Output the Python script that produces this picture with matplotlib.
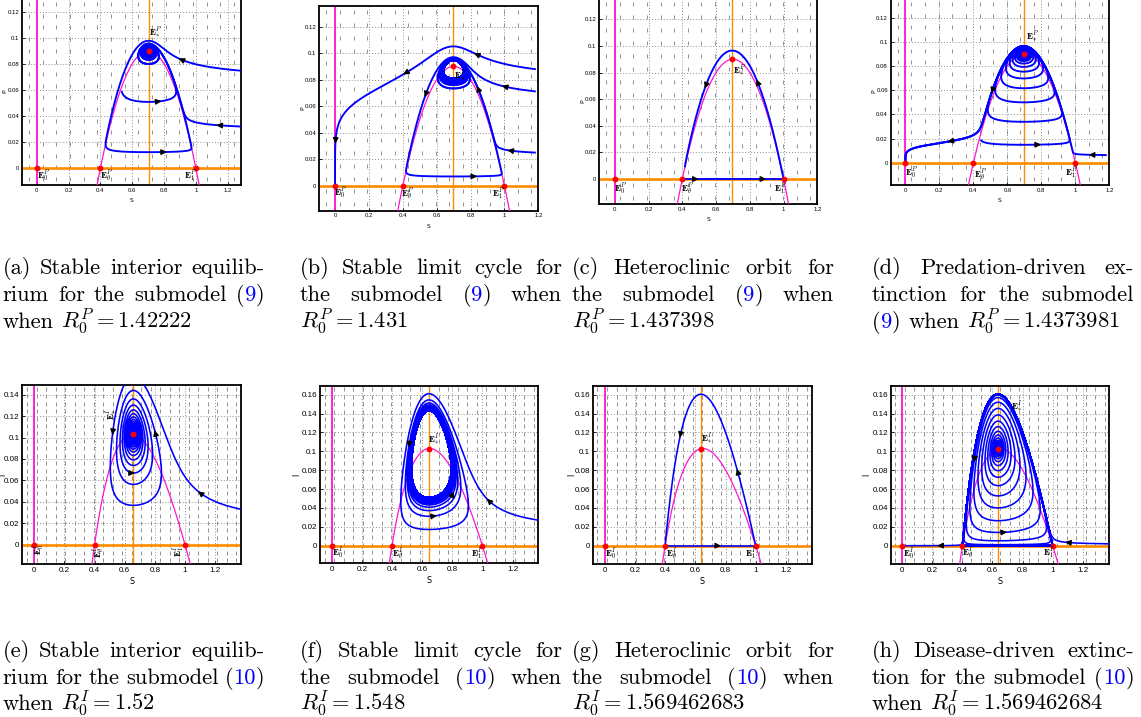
import re
import numpy as np
import matplotlib
matplotlib.use("Agg")
import matplotlib.pyplot as plt
from matplotlib.patches import FancyArrowPatch

plt.rcParams['mathtext.fontset'] = 'cm'
plt.rcParams['axes.unicode_minus'] = False

# ======================= values =======================
THETA = 0.4            # left S-root of both humps (Allee threshold)
K_CAP = 1.0            # right S-root of both humps
I_HUMP_S = 0.65        # S where the I-nullcline of submodel (10) peaks
I_HUMP_TOP = 0.103     # height of that peak

R0_P = [1.42222, 1.431, 1.437398, 1.4373981]
R0_I = [1.52, 1.548, 1.569462683, 1.569462684]

TICKS_S = [0, 0.2, 0.4, 0.6, 0.8, 1.0, 1.2]
TICKLAB_S = ['0', '0.2', '0.4', '0.6', '0.8', '1', '1.2']
TICKS_P = [0, 0.02, 0.04, 0.06, 0.08, 0.10, 0.12]
TICKLAB_P = ['0', '0.02', '0.04', '0.06', '0.08', '0.1', '0.12']
TICKS_I14 = [0, 0.02, 0.04, 0.06, 0.08, 0.10, 0.12, 0.14]
TICKLAB_I14 = ['0', '0.02', '0.04', '0.06', '0.08', '0.1', '0.12', '0.14']
TICKS_I16 = [0, 0.02, 0.04, 0.06, 0.08, 0.10, 0.12, 0.14, 0.16]
TICKLAB_I16 = ['0', '0.02', '0.04', '0.06', '0.08', '0.1', '0.12', '0.14', '0.16']

# starting states (S, P or I) and time spans of the drawn orbits; None = next to E*
ORBITS_A = [(1.28, 0.075, 4000), (1.28, 0.032, 4000), (0.535, 0.0585, 3000)]
ORBITS_B = [(1.18, 0.088, 400), (1.18, 0.069, 3000), (1.18, 0.025, 3000)]
ORBITS_D = [(1.18, 0.0063, 5000), (None, None, 6000), (0.445, 0.0185, 4000)]
ORBITS_E = [(1.37, 0.033, 2500)]
ORBITS_F = [(1.37, 0.027, 2500)]
ORBITS_H = [(1.37, 0.002, 5000), (None, None, 6000)]

# heights of the left turning points of the big loops (panels a, b)
PEEL_A1 = 0.0185            # first loop of (a) turns right here
PEEL_B = 0.011              # big loop of (b) turns right here

# arrow positions
ARROWS_A = [(0.90, 0.084), (0.775, 0.050), (1.152, 0.033), (0.806, 0.0153)]
ARROWS_B = [(0.831, 0.100), (0.415, 0.084), (0.0, 0.033), (0.531, 0.068),
            (0.841, 0.074), (0.996, 0.0735), (1.025, 0.027), (0.831, 0.0091)]
ARROWS_C = [(0.54, 0.069), (0.848, 0.074), (0.487, 0.0), (0.887, 0.0)]
ARROWS_D = [(0.508, 0.0588), (0.257, 0.0174), (0.788, 0.0154), (1.097, 0.0063)]
ARROWS_E = [(0.535, 0.104), (0.79, 0.104), (0.657, 0.066), (1.088, 0.046)]
ARROWS_F = [(0.509, 0.105), (0.686, 0.029), (0.812, 0.055), (1.018, 0.048)]
ARROWS_G = [(0.51, 0.115), (0.874, 0.0795), (0.759, 0.0)]
ARROWS_H = [(0.477, 0.091), (0.69, 0.0145), (0.246, 0.0), (1.089, 0.0025)]

# equilibrium label positions (E0, Etheta, E1, E*)
LABELS_A = [(0.045, -0.006), (0.44, -0.006), (0.965, -0.006), (0.745, 0.104)]
LABELS_B = [(0.035, -0.0055), (0.43, -0.0065), (0.965, -0.0065), (0.74, 0.083)]
LABELS_C = [(0.035, -0.0075), (0.43, -0.0075), (0.98, -0.0075), (0.74, 0.081)]
LABELS_D = [(0.035, -0.009), (0.44, -0.0105), (0.975, -0.009), (0.75, 0.104)]
LABELS_E = [(0.035, -0.004), (0.43, -0.0072), (0.96, -0.0065), (0.515, 0.122)]
LABELS_F = [(0.04, -0.0075), (0.44, -0.0085), (0.965, -0.009), (0.675, 0.112)]
LABELS_G = [(0.04, -0.009), (0.445, -0.0095), (0.965, -0.009), (0.675, 0.113)]
LABELS_H = [(0.04, -0.009), (0.435, -0.0075), (0.975, -0.008), (0.76, 0.147)]

CAPTIONS = [
    ["(a) Stable interior equilib-", "rium for the submodel (9)", "when $R_0^P = 1.42222$"],
    ["(b) Stable limit cycle for", "the submodel (9) when", "$R_0^P = 1.431$"],
    ["(c) Heteroclinic orbit for", "the submodel (9) when", "$R_0^P = 1.437398$"],
    ["(d) Predation-driven ex-", "tinction for the submodel", "(9) when $R_0^P = 1.4373981$"],
    ["(e) Stable interior equilib-", "rium for the submodel (10)", "when $R_0^I = 1.52$"],
    ["(f) Stable limit cycle for", "the submodel (10) when", "$R_0^I = 1.548$"],
    ["(g) Heteroclinic orbit for", "the submodel (10) when", "$R_0^I = 1.569462683$"],
    ["(h) Disease-driven extinc-", "tion for the submodel (10)", "when $R_0^I = 1.569462684$"],
]

# ======================= model of the two submodels =======================
C_I = 1.0 / (1.0 / (I_HUMP_S - THETA) - 1.0 / (K_CAP - I_HUMP_S)) - I_HUMP_S
B_I = (I_HUMP_S - THETA) * (K_CAP - I_HUMP_S) / ((I_HUMP_S + C_I) * I_HUMP_TOP)


def rhs_p(S, P, eps, m):
    return S * ((S - THETA) * (K_CAP - S) - P), eps * P * (S - m)


def rhs_i(S, I, eps, m):
    return S * (S - THETA) * (K_CAP - S) - B_I * S * (S + C_I) * I, eps * I * (S - m)


def null_p(S):
    return (S - THETA) * (K_CAP - S)


def null_i(S):
    return (S - THETA) * (K_CAP - S) / (B_I * (S + C_I))


DT = 0.2


def rk4(rhs, S, P, eps, m, dt):
    a1, b1 = rhs(S, P, eps, m)
    a2, b2 = rhs(S + 0.5 * dt * a1, P + 0.5 * dt * b1, eps, m)
    a3, b3 = rhs(S + 0.5 * dt * a2, P + 0.5 * dt * b2, eps, m)
    a4, b4 = rhs(S + dt * a3, P + dt * b3, eps, m)
    return (S + dt / 6 * (a1 + 2 * a2 + 2 * a3 + a4),
            P + dt / 6 * (b1 + 2 * b2 + 2 * b3 + b4))


def peel_measure(rhs, S0, P0, eps, m, nmax=40000):
    """P where an orbit first turns right on the left side (-1 if it dies out)."""
    S, P, eps = [np.array(a, float) for a in np.broadcast_arrays(
        np.asarray(S0, float), np.asarray(P0, float), np.asarray(eps, float))]
    meas = np.full(S.shape, np.nan)
    for k in range(nmax):
        S, P = rk4(rhs, S, P, eps, m, DT)
        dS, _ = rhs(S, P, eps, m)
        und = np.isnan(meas)
        meas[und & (S < 0.3)] = -1.0
        pr = und & (S < m) & (dS > 0)
        meas[pr] = P[pr]
        if k % 40 == 0 and not np.isnan(meas).any():
            break
    meas[np.isnan(meas)] = 1.0
    return meas


def tune(fn, lo, hi, target, log=True, n=48, rounds=6):
    """bracket (value with measure >= target, value with measure < target)."""
    grid = np.geomspace(lo, hi, n) if log else np.linspace(lo, hi, n)
    res = None
    for rnd in range(rounds):
        meas = fn(grid)
        sg = meas >= target
        idx = np.where(sg[:-1] != sg[1:])[0]
        if len(idx) == 0:
            break
        i = idx[0]
        res = (grid[i], grid[i + 1]) if sg[i] else (grid[i + 1], grid[i])
        grid = np.linspace(grid[i], grid[i + 1], n)
    return res


def orbit(rhs, s0, p0, eps, m, T, stop=None):
    n = int(T / DT)
    S = [s0]
    P = [p0]
    s, p = s0, p0
    for k in range(n):
        s, p = rk4(rhs, s, p, eps, m, DT)
        S.append(s)
        P.append(p)
        if stop is not None and stop(s, p):
            break
    return np.array(S), np.array(P)


M_P = [1.0 / r for r in R0_P]
M_I = [1.0 / r for r in R0_I]
# heteroclinic: orbit leaving E1 along P=0 lands on E_theta
EP_HI, EP_LO = tune(lambda g: peel_measure(rhs_p, K_CAP, 5e-4, g, M_P[2]), 0.02, 1.5, 0.0)
EI_HI, EI_LO = tune(lambda g: peel_measure(rhs_i, K_CAP, 5e-4, g, M_I[2]), 0.02, 5.0, 0.0)

# panels (a), (b): start height of the orbit that makes the big loop
_r = tune(lambda g: peel_measure(rhs_p, ORBITS_A[0][0], g, EP_HI, M_P[0]), 0.035, 0.095,
          PEEL_A1, log=False)
if _r:
    ORBITS_A[0] = (ORBITS_A[0][0], _r[0], ORBITS_A[0][2])
_r = tune(lambda g: peel_measure(rhs_p, ORBITS_B[1][0], g, EP_HI, M_P[1]), 0.045, 0.087,
          PEEL_B, log=False)
if _r:
    ORBITS_B[1] = (ORBITS_B[1][0], _r[0], ORBITS_B[1][2])

# ======================= layout (pixels of the 1141x717 figure) =======================
W_PX, H_PX = 1141, 717
# box: left, right, top, bottom ; cal: x-pixel of S=0, px per S, y-pixel of 0, px per unit
PANELS = [
    dict(box=(22, 241, -2, 185), cal=(36.7, 159.2, 168.3, 1305.7)),
    dict(box=(319.3, 538.3, 5.7, 210.7), cal=(335.3, 172.0, 185.7, 1325.0)),
    dict(box=(599.3, 817.3, -2, 204), cal=(615.0, 171.0, 179.0, 1330.7)),
    dict(box=(890.7, 1109.3, -2, 185), cal=(905.7, 172.7, 162.7, 1208.3)),
    dict(box=(22.3, 241, 385, 564), cal=(34.3, 150.7, 544.7, 1071.3)),
    dict(box=(320, 538.3, 385.7, 563.3), cal=(331.7, 150.7, 545.7, 943.7)),
    dict(box=(592.7, 811.7, 385.7, 564), cal=(604.7, 151.0, 545.7, 943.7)),
    dict(box=(890.7, 1109.3, 385.7, 564), cal=(902.3, 150.3, 545.7, 943.7)),
]
YLAB_OFF = [15, 14, 14, 14, 15.5, 19, 16, 19]
CAP_X = [2.5, 300, 572, 872]
CAP_W = 262
CAP_Y_TOP = [274, 301, 328]
CAP_Y_BOT = [657, 684, 710]
CAP_FS = 16.2

BLUE = '#0000ff'
MAGENTA = '#ff14d2'
ORANGE = '#ff8c00'

fig = plt.figure(figsize=(W_PX / 100, H_PX / 100), dpi=100)


def make_axes(spec):
    L, R, T, B = spec['box']
    x0, sx, y0, sy = spec['cal']
    ax = fig.add_axes([L / W_PX, 1 - B / H_PX, (R - L) / W_PX, (B - T) / H_PX])
    ax.set_xlim((L - x0) / sx, (R - x0) / sx)
    ax.set_ylim((y0 - B) / sy, (y0 - T) / sy)
    return ax


def decorate(ax, i, top_row, yticks, ylabs, ylabel):
    fs = 4.3 if top_row else 5.8
    ax.set_xticks(TICKS_S)
    ax.set_xticklabels(TICKLAB_S, fontsize=fs, family='Liberation Sans')
    ax.set_yticks(yticks)
    ax.set_yticklabels(ylabs, fontsize=fs, family='Liberation Sans')
    ax.tick_params(direction='in', length=2, width=0.6, pad=2)
    ax.grid(True, linestyle=(0, (1, 2)), color='#8c8c8c', linewidth=0.7)
    ax.set_axisbelow(True)
    for sp in ax.spines.values():
        sp.set_linewidth(1.3)
    L, R, T, B = PANELS[i]['box']
    ax.set_xlabel('S', fontsize=fs)
    ax.set_ylabel(ylabel, fontsize=fs)
    ax.xaxis.set_label_coords(0.5, -13.0 / (B - T))
    ax.yaxis.set_label_coords(-YLAB_OFF[i] / (R - L), 0.5)
    # direction-field marks
    x0, x1 = ax.get_xlim()
    y0, y1 = ax.get_ylim()
    nx, ny = (16, 16) if top_row else (23, 24)
    gx = x0 + (np.arange(nx) + 0.5) * (x1 - x0) / nx
    gy = y0 + (np.arange(ny) + 0.5) * (y1 - y0) / ny
    GX, GY = np.meshgrid(gx, gy)
    ax.plot(GX.ravel(), GY.ravel(), '|', ms=2.6, mew=0.65, color='#8a8a8a', zorder=1)


def add_arrows(ax, paths, pts, rhs, eps, m):
    T = ax.transData
    for (xs, ys) in pts:
        tgt = T.transform((xs, ys))
        best = (1e9, xs, ys)
        for (S, P) in paths:
            d = T.transform(np.column_stack([S, P]))
            k = np.argmin(((d - tgt) ** 2).sum(1))
            dist = np.sqrt(((d[k] - tgt) ** 2).sum())
            if dist < best[0]:
                best = (dist, S[k], P[k])
        dist, xa, ya = best
        if dist > 12:
            xa, ya = xs, ys
        u, v = rhs(xa, ya, eps, m)
        h = 1e-5 / max(np.hypot(u, v), 1e-12)
        p0 = T.transform((xa, ya))
        p1 = T.transform((xa + h * u, ya + h * v))
        dv = p1 - p0
        dv = dv / np.hypot(*dv)
        a = T.inverted().transform(p0 - 4.5 * dv)
        b = T.inverted().transform(p0 + 4.5 * dv)
        ax.add_patch(FancyArrowPatch(tuple(a), tuple(b), arrowstyle='-|>', mutation_scale=8,
                                     color='k', lw=1.0, zorder=6))


def draw_panel(i, ax, model, m, eps, orbits, arrows, labels, het=False, rot=0):
    top = model == 'P'
    rhs = rhs_p if top else rhs_i
    nullf = null_p if top else null_i
    sup = 'P' if top else 'I'
    if top:
        decorate(ax, i, True, TICKS_P, TICKLAB_P, 'P')
    elif i == 4:
        decorate(ax, i, False, TICKS_I14, TICKLAB_I14, 'I')
    else:
        decorate(ax, i, False, TICKS_I16, TICKLAB_I16, 'I')
    ystar = nullf(m)
    lw = 1.35 if top else 1.15
    ax.axhline(0, color=ORANGE, lw=1.9, zorder=2)
    ax.axvline(m, color=ORANGE, lw=1.0, zorder=2)
    ax.axvline(0, color=MAGENTA, lw=1.3, zorder=2)
    ss = np.linspace(0.3, 1.1, 400)
    ax.plot(ss, nullf(ss), color=MAGENTA, lw=0.9, zorder=3)
    paths = []
    if het:
        S, P = orbit(rhs, K_CAP, 5e-4, eps, m, 20000,
                     stop=lambda s, p: (s < m and rhs(s, p, eps, m)[0] > 0) or s < THETA - 0.01)
        paths.append((S, P))
        paths.append((np.array([THETA, K_CAP]), np.array([0.0, 0.0])))
    for (s0, p0, T) in orbits:
        if s0 is None:
            s0, p0 = m + 0.001, ystar
        S, P = orbit(rhs, s0, p0, eps, m, T,
                     stop=lambda s, p: s < 1e-3 and p < 2e-3)
        paths.append((S, P))
    for (S, P) in paths:
        ax.plot(S, P, color=BLUE, lw=lw, zorder=4, solid_joinstyle='round')
    add_arrows(ax, paths, arrows, rhs, eps, m)
    ax.plot([0, THETA, K_CAP, m], [0, 0, 0, ystar], 'o', color='red', ms=3.2, zorder=7)
    subs = ['0', r'\theta', '1', '*']
    for (lx, ly), sb in zip(labels, subs):
        ax.text(lx, ly, r'$\mathbf{E}^{%s}_{%s}$' % (sup, sb), fontsize=6.5, ha='center',
                va='center', rotation=rot, zorder=8)


axs = [make_axes(p) for p in PANELS]
draw_panel(0, axs[0], 'P', M_P[0], EP_HI, ORBITS_A, ARROWS_A, LABELS_A)
draw_panel(1, axs[1], 'P', M_P[1], EP_HI, ORBITS_B, ARROWS_B, LABELS_B)
draw_panel(2, axs[2], 'P', M_P[2], EP_HI, [], ARROWS_C, LABELS_C, het=True)
draw_panel(3, axs[3], 'P', M_P[3], EP_LO, ORBITS_D, ARROWS_D, LABELS_D)
draw_panel(4, axs[4], 'I', M_I[0], EI_HI, ORBITS_E, ARROWS_E, LABELS_E, rot=90)
draw_panel(5, axs[5], 'I', M_I[1], EI_HI, ORBITS_F, ARROWS_F, LABELS_F)
draw_panel(6, axs[6], 'I', M_I[2], EI_HI, [], ARROWS_G, LABELS_G, het=True)
draw_panel(7, axs[7], 'I', M_I[3], EI_LO, ORBITS_H, ARROWS_H, LABELS_H)

# ======================= captions (justified) =======================
renderer = fig.canvas.get_renderer()


def width_of(txt):
    t = fig.text(0, 0, txt, fontsize=CAP_FS, family='cmr10')
    w = t.get_window_extent(renderer).width
    t.remove()
    return w


SPACE_W = width_of('a a') - width_of('aa')


def word_segments(tok):
    mm = re.match(r'^\((\d+)\)$', tok)
    if mm:
        return [('(', 'black'), (mm.group(1), BLUE), (')', 'black')]
    return [(tok, 'black')]


def put_line(text, x_left, y_px, justify):
    toks = re.findall(r'\$[^$]*\$|\S+', text)
    words = [word_segments(t) for t in toks]
    widths = [[width_of(s) for s, c in w] for w in words]
    tot = sum(sum(w) for w in widths)
    gap = (CAP_W - tot) / (len(words) - 1) if (justify and len(words) > 1) else SPACE_W
    x = x_left
    for w, ws in zip(words, widths):
        for (s, c), sw in zip(w, ws):
            fig.text(x / W_PX, 1 - y_px / H_PX, s, fontsize=CAP_FS, family='cmr10',
                     color=c, va='baseline', ha='left')
            x += sw
        x += gap


for k, lines in enumerate(CAPTIONS):
    col = k % 4
    ys = CAP_Y_TOP if k < 4 else CAP_Y_BOT
    for j, line in enumerate(lines):
        put_line(line, CAP_X[col], ys[j], justify=(j < 2))

fig.savefig('out.png', dpi=100)
